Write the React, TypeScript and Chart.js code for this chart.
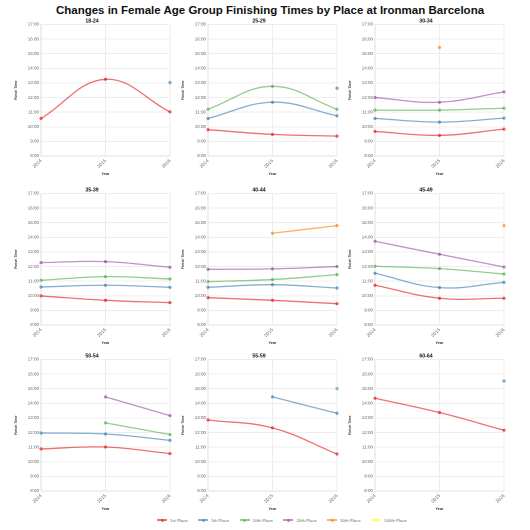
import React, { useEffect, useRef } from 'react';
import { Chart, registerables } from 'chart.js';

Chart.register(...registerables);

const mainTitle = 'Changes in Female Age Group Finishing Times by Place at Ironman Barcelona';
const years = ['2014', '2015', '2016'];
const hourLabels = ['8:00', '9:00', '10:00', '11:00', '12:00', '13:00', '14:00', '15:00', '16:00', '17:00'];
const ageGroups = ['18-24', '25-29', '30-34', '35-39', '40-44', '45-49', '50-54', '55-59', '60-64'];
const placeNames = ['1st Place', '5th Place', '10th Place', '20th Place', '50th Place', '100th Place'];
const placeColors = [
  'rgba(228,26,28,0.62)',
  'rgba(55,126,184,0.62)',
  'rgba(77,175,74,0.62)',
  'rgba(152,78,163,0.62)',
  'rgba(255,127,0,0.62)',
  'rgba(255,255,51,0.62)',
];

// finishing times in hours, one row per age group, columns 2014/2015/2016
const place1st = [
  [10.57, 13.25, 11.02],
  [9.80, 9.48, 9.36],
  [9.68, 9.41, 9.84],
  [9.99, 9.69, 9.53],
  [9.87, 9.69, 9.46],
  [10.72, 9.83, 9.83],
  [10.88, 11.01, 10.56],
  [12.86, 12.32, 10.53],
  [14.35, 13.37, 12.16],
];
const place5th = [
  [null, null, 13.02],
  [10.57, 11.68, 10.75],
  [10.57, 10.32, 10.59],
  [10.60, 10.72, 10.58],
  [10.58, 10.76, 10.53],
  [11.54, 10.56, 10.92],
  [11.97, 11.90, 11.47],
  [null, 14.44, 13.32],
  [null, null, 15.53],
];
const place10th = [
  [null, null, null],
  [11.20, 12.77, 11.20],
  [11.14, 11.14, 11.27],
  [11.06, 11.31, 11.15],
  [10.97, 11.11, 11.45],
  [12.02, 11.86, 11.49],
  [null, 12.66, 11.86],
  [null, null, 15.01],
  [null, null, null],
];
const place20th = [
  [null, null, null],
  [null, null, 12.64],
  [12.00, 11.68, 12.39],
  [12.27, 12.34, 11.95],
  [11.81, 11.84, 12.00],
  [13.73, 12.84, 11.97],
  [null, 14.44, 13.16],
  [null, null, null],
  [null, null, null],
];
const place50th = [
  [null, null, null],
  [null, null, null],
  [null, 15.43, null],
  [null, null, null],
  [null, 14.28, 14.80],
  [null, null, 14.80],
  [null, null, null],
  [null, null, null],
  [null, null, null],
];
const place100th = [
  [null, null, null],
  [null, null, null],
  [null, null, null],
  [null, null, null],
  [null, null, null],
  [null, null, null],
  [null, null, null],
  [null, null, null],
  [null, null, null],
];
const allPlaces = [place1st, place5th, place10th, place20th, place50th, place100th];

const FONT = '"Liberation Sans", Arial, Helvetica, sans-serif';

function Panel({ index }: { index: number }) {
  const ref = useRef<HTMLCanvasElement>(null);
  useEffect(() => {
    if (!ref.current) return;
    const chart = new Chart(ref.current, {
      type: 'line',
      data: {
        labels: years,
        datasets: allPlaces.map((p, k) => ({
          label: placeNames[k],
          data: p[index],
          borderColor: placeColors[k],
          backgroundColor: placeColors[k],
          pointBackgroundColor: placeColors[k],
          pointBorderColor: placeColors[k],
          borderWidth: 1.3,
          pointRadius: 1.4,
          pointBorderWidth: 0.5,
          tension: 0.4,
          fill: false,
          spanGaps: false,
          clip: false as any,
        })),
      },
      options: {
        animation: false,
        responsive: true,
        maintainAspectRatio: false,
        devicePixelRatio: 2,
        layout: { padding: { top: 2, right: 11, bottom: 0, left: 0 } },
        plugins: {
          legend: { display: false },
          tooltip: { enabled: false },
          title: {
            display: true,
            text: ageGroups[index],
            color: '#111',
            font: { family: FONT, size: 5.2, weight: 'bold', lineHeight: 1.25 },
            padding: { top: 0, bottom: 0 },
          },
        },
        scales: {
          x: {
            type: 'category',
            offset: false,
            grid: { color: '#e9e9e9', lineWidth: 0.8, drawTicks: false },
            border: { color: '#dcdcdc', width: 0.8 },
            ticks: {
              color: '#666',
              font: { family: FONT, size: 4.7 },
              minRotation: 45,
              maxRotation: 45,
              padding: 2,
            },
            title: {
              display: true,
              text: 'Year',
              color: '#333',
              font: { family: FONT, size: 3.8, weight: 'bold' },
              padding: { top: 0, bottom: 0 },
            },
            afterFit: (s: any) => { s.height = 20; },
          },
          y: {
            type: 'linear',
            min: 8,
            max: 17,
            grid: { color: '#e9e9e9', lineWidth: 0.8, drawTicks: false },
            border: { color: '#dcdcdc', width: 0.8 },
            ticks: {
              stepSize: 1,
              color: '#666',
              font: { family: FONT, size: 4.5 },
              padding: 2,
              callback: (_v: any, i: number) => hourLabels[i],
            },
            title: {
              display: true,
              text: 'Finish Time',
              color: '#333',
              font: { family: FONT, size: 3.5, weight: 'bold' },
              padding: { top: 0, bottom: 0 },
            },
            afterFit: (s: any) => { s.width = 27; },
          },
        },
      },
    });
    return () => chart.destroy();
  }, [index]);
  const col = index % 3;
  const row = Math.floor(index / 3);
  const tops = [16.4, 184.7, 351.4];
  return (
    <div style={{ position: 'absolute', left: 14 + col * 167, top: tops[row], width: 167, height: 160 }}>
      <canvas ref={ref} />
    </div>
  );
}

function LegendItem({ i }: { i: number }) {
  return (
    <div style={{ display: 'flex', alignItems: 'center', marginRight: 10.5 }}>
      <div style={{ position: 'relative', width: 10, height: 4, marginRight: 3 }}>
        <div style={{ position: 'absolute', left: 0, top: 1.4, width: 10, height: 1.2, background: placeColors[i] }} />
        <div style={{ position: 'absolute', left: 3.5, top: 0.5, width: 3, height: 3, borderRadius: '50%', background: placeColors[i] }} />
      </div>
      <span style={{ fontSize: 4.3, color: '#666', fontFamily: FONT, whiteSpace: 'nowrap' }}>{placeNames[i]}</span>
    </div>
  );
}

export default function App() {
  return (
    <div style={{ position: 'absolute', left: 0, top: 0, width: 530, height: 530, background: '#fff', overflow: 'hidden' }}>
      <div style={{ position: 'absolute', left: 0, top: 3, width: 540, textAlign: 'center', fontFamily: FONT, fontWeight: 'bold', fontSize: 11.5, lineHeight: '14px', color: '#111' }}>
        {mainTitle}
      </div>
      {ageGroups.map((_, i) => <Panel key={i} index={i} />)}
      <div style={{ position: 'absolute', left: 157, top: 516, height: 8, display: 'flex', alignItems: 'center' }}>
        {placeNames.map((_, i) => <LegendItem key={i} i={i} />)}
      </div>
    </div>
  );
}
